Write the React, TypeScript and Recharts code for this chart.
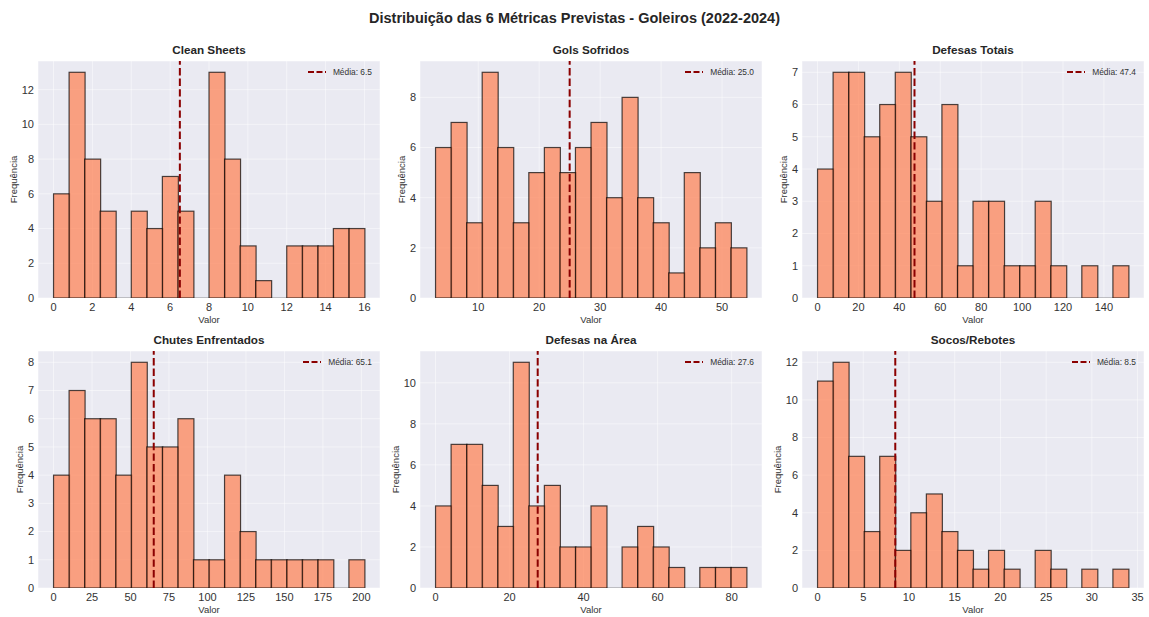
import React from 'react';
import { ComposedChart, Bar, XAxis, YAxis, CartesianGrid, ReferenceLine } from 'recharts';

// ---- Data ----
const mainTitle = 'Distribuição das 6 Métricas Previstas - Goleiros (2022-2024)';
const panelTitles = ['Clean Sheets', 'Gols Sofridos', 'Defesas Totais', 'Chutes Enfrentados', 'Defesas na Área', 'Socos/Rebotes'];

const cleanSheetsCounts = [6, 13, 8, 5, 0, 5, 4, 7, 5, 0, 13, 8, 3, 1, 0, 3, 3, 3, 4, 4];
const golsSofridosCounts = [6, 7, 3, 9, 6, 3, 5, 6, 5, 6, 7, 4, 8, 4, 3, 1, 5, 2, 3, 2];
const defesasTotaisCounts = [4, 7, 7, 5, 6, 7, 5, 3, 6, 1, 3, 3, 1, 1, 3, 1, 0, 1, 0, 1];
const chutesEnfrentadosCounts = [4, 7, 6, 6, 4, 8, 5, 5, 6, 1, 1, 4, 2, 1, 1, 1, 1, 1, 0, 1];
const defesasAreaCounts = [4, 7, 7, 5, 3, 11, 4, 5, 2, 2, 4, 0, 2, 3, 2, 1, 0, 1, 1, 1];
const socosRebotesCounts = [11, 12, 7, 3, 7, 2, 4, 5, 3, 2, 1, 2, 1, 0, 2, 1, 0, 1, 0, 1];

const allCounts = [cleanSheetsCounts, golsSofridosCounts, defesasTotaisCounts, chutesEnfrentadosCounts, defesasAreaCounts, socosRebotesCounts];

// [min, max] of the binned values
const binRanges = [[0, 16], [3, 54], [0, 152], [0, 202], [0, 84], [0, 34]];
const means = [6.5, 25.0, 47.4, 65.1, 27.6, 8.5];

const xTickSets = [
  [0, 2, 4, 6, 8, 10, 12, 14, 16],
  [10, 20, 30, 40, 50],
  [0, 20, 40, 60, 80, 100, 120, 140],
  [0, 25, 50, 75, 100, 125, 150, 175, 200],
  [0, 20, 40, 60, 80],
  [0, 5, 10, 15, 20, 25, 30, 35],
];
const yTickSets = [
  [0, 2, 4, 6, 8, 10, 12],
  [0, 2, 4, 6, 8],
  [0, 1, 2, 3, 4, 5, 6, 7],
  [0, 1, 2, 3, 4, 5, 6, 7, 8],
  [0, 2, 4, 6, 8, 10],
  [0, 2, 4, 6, 8, 10, 12],
];

// ---- Layout ----
const FONT = '"Liberation Sans", Arial, Helvetica, sans-serif';
const PLOT_W = 342;
const PLOT_H = 237;
const plotLefts = [38, 420, 802];
const plotTops = [61, 351];
const LEFT_SPACE = 38;
const TOP_SPACE = 30;
const X_AXIS_H = 25;
const BOTTOM_MARGIN = 5;
const PAD = (PLOT_W * 0.05) / 1.1;

const HistShape = (props: any) => {
  const { x, y, width, height } = props;
  if (!height || height <= 0) {
    return <line x1={x} x2={x + width} y1={y} y2={y} stroke="#000" strokeOpacity={0.35} strokeWidth={1.2} />;
  }
  return (
    <rect x={x} y={y} width={width} height={height} fill="coral" fillOpacity={0.7}
      stroke="#000" strokeOpacity={0.7} strokeWidth={1.2} />
  );
};

const Panel = ({ idx }: { idx: number }) => {
  const col = idx % 3;
  const row = Math.floor(idx / 3);
  const plotLeft = plotLefts[col];
  const plotTop = plotTops[row];
  const counts = allCounts[idx];
  const [lo, hi] = binRanges[idx];
  const range = hi - lo;
  const data = counts.map((c, i) => ({ bin: i, count: c, center: lo + ((i + 0.5) * range) / counts.length }));
  const maxCount = Math.max(...counts);
  const yTicks = yTickSets[idx];
  const wide = yTicks[yTicks.length - 1] >= 10;
  const yLabelX = LEFT_SPACE - (wide ? 24.7 : 18);
  const chartW = LEFT_SPACE + PLOT_W + 2;
  const chartH = TOP_SPACE + PLOT_H + X_AXIS_H + BOTTOM_MARGIN;

  return (
    <div style={{ position: 'absolute', left: plotLeft - LEFT_SPACE, top: plotTop - TOP_SPACE, width: chartW, height: chartH }}>
      <div style={{ position: 'absolute', left: LEFT_SPACE, width: PLOT_W, top: TOP_SPACE - 18, lineHeight: '14px', textAlign: 'center', fontWeight: 'bold', fontSize: 11.7, color: '#262626', fontFamily: FONT }}>
        {panelTitles[idx]}
      </div>
      <ComposedChart width={chartW} height={chartH} data={data}
        margin={{ top: TOP_SPACE, right: 2, bottom: BOTTOM_MARGIN, left: 0 }}
        barCategoryGap={0} barGap={0} style={{ fontFamily: FONT }}>
        <CartesianGrid xAxisId="num" fill="#EAEAF2" fillOpacity={1} stroke="#ffffff" strokeOpacity={0.6} strokeWidth={0.8} />
        <XAxis xAxisId="cat" dataKey="bin" type="category" orientation="top" hide height={0} padding={{ left: PAD, right: PAD }} />
        <XAxis xAxisId="num" dataKey="center" type="number" orientation="bottom" domain={[lo - 0.05 * range, hi + 0.05 * range]}
          allowDataOverflow ticks={xTickSets[idx]} tickLine={false} axisLine={false} height={X_AXIS_H}
          tickSize={5} tickMargin={0} interval={0}
          tick={{ fontSize: 11, fill: '#333', fontFamily: FONT }}
          label={{ value: 'Valor', position: 'insideBottom', offset: 0, style: { fontSize: 9.5, fill: '#333', fontFamily: FONT } }} />
        <YAxis type="number" width={LEFT_SPACE} domain={[0, maxCount * 1.05]} allowDataOverflow ticks={yTicks}
          tickLine={false} axisLine={false} tickSize={4} tickMargin={0} interval={0}
          tick={{ fontSize: 11, fill: '#333', fontFamily: FONT }}
          label={{ value: 'Frequência', angle: -90, position: 'insideLeft', offset: yLabelX, style: { textAnchor: 'middle', fontSize: 9.5, fill: '#333', fontFamily: FONT } }} />
        <Bar xAxisId="cat" dataKey="count" shape={HistShape} isAnimationActive={false} />
        <ReferenceLine xAxisId="num" x={means[idx]} stroke="#8B0000" strokeWidth={2} strokeDasharray="7.4 3.2" />
      </ComposedChart>
      <div style={{ position: 'absolute', right: 2 + 8, top: TOP_SPACE + 5, display: 'flex', alignItems: 'center', fontFamily: FONT, fontSize: 8.4, color: '#333', lineHeight: '12px' }}>
        <svg width={18} height={6} style={{ marginRight: 7 }}>
          <line x1={0} x2={18} y1={3} y2={3} stroke="#8B0000" strokeWidth={2} strokeDasharray="6 2.5" />
        </svg>
        <span>{`Média: ${means[idx].toFixed(1)}`}</span>
      </div>
    </div>
  );
};

export default function App() {
  return (
    <div style={{ position: 'absolute', left: 0, top: 0, width: 1149, height: 617, background: '#fff', fontFamily: FONT }}>
      <div style={{ position: 'absolute', left: 0, width: 1149, top: 9, lineHeight: '18px', textAlign: 'center', fontWeight: 'bold', fontSize: 14.5, color: '#262626' }}>
        {mainTitle}
      </div>
      {[0, 1, 2, 3, 4, 5].map((i) => (
        <Panel key={i} idx={i} />
      ))}
    </div>
  );
}
